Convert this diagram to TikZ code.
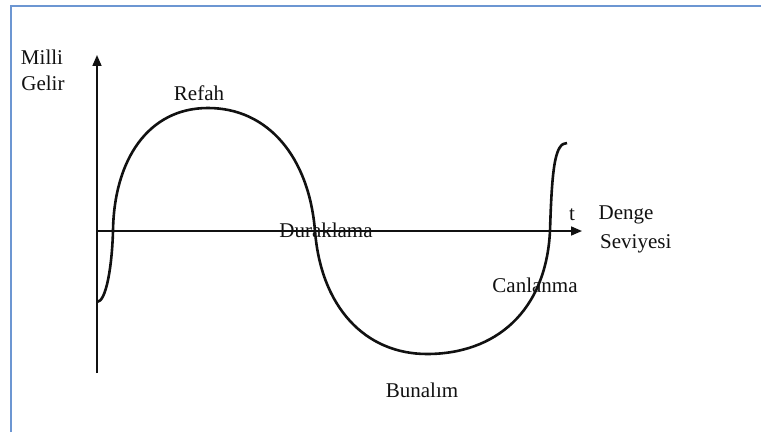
\documentclass[tikz,border=0pt]{standalone}
\usepackage{fontspec}
\setmainfont{Liberation Serif}
\usetikzlibrary{arrows.meta}
\definecolor{CFrame}{HTML}{6C96D2}
\definecolor{CInk}{HTML}{111111}
\tikzset{
  frame/.style={draw=CFrame,line width=2pt},
  axis/.style={-{Triangle[length=11pt,width=9pt]},CInk,line width=1.6pt},
  plainaxis/.style={CInk,line width=1.6pt},
  wave/.style={CInk,line width=2.6pt},
  word/.style={text=CInk,font=\fontsize{21}{23}\selectfont,inner sep=0pt,align=left},
}
\begin{document}
\begin{tikzpicture}[x=1pt,y=1pt]
    \useasboundingbox (0,0) rectangle (761,432);
    \fill[white] (0,0) rectangle (761,432);
    % frame (only the left and top edges show)
    \coordinate (fbl) at (11,0);
    \coordinate (ftl) at (11,426);
    \coordinate (ftr) at (761,426);
    \draw[frame] (fbl) -- (ftl) -- (ftr);

    % axes
    \coordinate (ybot) at (97,59);
    \coordinate (ytop) at (97,377);
    \coordinate (org) at (97,201);
    \coordinate (xend) at (582,201);
    \draw[plainaxis] (ybot) -- (org);
    \draw[axis] (org) -- (ytop);
    \draw[axis] (org) -- (xend);

    % cycle
    \coordinate (start) at (97,130);
    \coordinate (up1) at (113,201);
    \coordinate (peak) at (208,324);
    \coordinate (down1) at (315,201);
    \coordinate (trough) at (427,78);
    \coordinate (up2) at (550,201);
    \coordinate (stop) at (567,289);
    \draw[wave] (start) .. controls (106,130) and (112,165) .. (up1)
      .. controls (114,272) and (148,324) .. (peak)
      .. controls (268,324) and (309,275) .. (down1)
      .. controls (321,125) and (365,78) .. (trough)
      .. controls (495,78) and (546,120) .. (up2)
      .. controls (552,265) and (555,289) .. (stop);

    % labels
    \node[word] (milli) at (42,375) {Milli};
    \node[word] (gelir) at (43,349) {Gelir};
    \node[word] (refah) at (199,339) {Refah};
    \node[word] (durak) at (326,202) {Duraklama};
    \node[word] (tt) at (572,217) {t};
    \node[word] (denge) at (626,217) {Denge};
    \node[word,anchor=west] (sev) at (600,188) {Seviyesi};
    \node[word] (canl) at (535,147) {Canlanma};
    \node[word] (bunal) at (422,42) {Bunalım};
  \end{tikzpicture}
\end{document}
